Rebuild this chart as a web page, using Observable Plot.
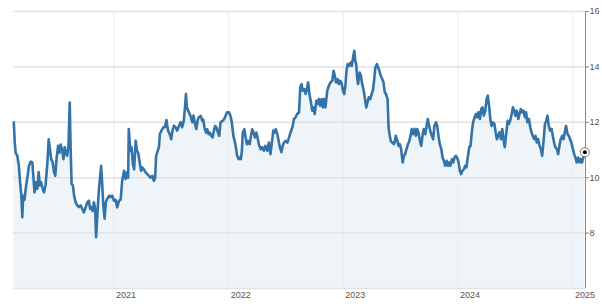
<!DOCTYPE html>
<html><head><meta charset="utf-8">
<script src="https://cdn.jsdelivr.net/npm/d3@7"></script>
<script src="https://cdn.jsdelivr.net/npm/@observablehq/plot@0.6"></script>
<style>body{margin:0;background:#fff;overflow:hidden}</style>
</head><body><div id="chart"></div>
<script>
const yTicks = [8, 10, 12, 14, 16];
const gridY = [6, 8, 10, 12, 14, 16];
const yearTicks = ["2021-01-01", "2022-01-01", "2023-01-01", "2024-01-01", "2025-01-01"];
const xDomain = ["2020-02-16", "2025-02-10"];
const yDomain = [6, 16];
const series = [
["2020-02-17",12.0],["2020-02-20",11.27],["2020-02-23",10.9],["2020-02-28",10.8],["2020-03-04",10.43],["2020-03-08",9.83],["2020-03-12",9.35],["2020-03-15",8.57],["2020-03-18",9.35],["2020-03-22",9.2],["2020-03-27",9.7],
["2020-04-01",10.07],["2020-04-05",10.43],["2020-04-11",10.58],["2020-04-16",10.55],["2020-04-19",10.07],["2020-04-23",9.47],["2020-04-28",9.84],
["2020-05-02",9.6],["2020-05-06",10.2],["2020-05-10",9.72],["2020-05-14",9.84],["2020-05-19",9.6],["2020-05-23",9.47],["2020-05-28",9.72],
["2020-06-03",10.55],["2020-06-07",11.39],["2020-06-11",11.03],["2020-06-15",10.67],["2020-06-20",10.55],["2020-06-24",10.2],["2020-06-28",10.07],
["2020-07-02",10.67],["2020-07-07",11.15],["2020-07-11",10.9],["2020-07-15",11.2],["2020-07-19",11.03],["2020-07-24",10.67],["2020-07-28",11.1],
["2020-08-01",10.85],["2020-08-05",10.8],["2020-08-09",11.15],["2020-08-13",12.71],["2020-08-16",11.03],["2020-08-19",9.77],["2020-08-23",9.72],["2020-08-27",9.35],
["2020-09-01",9.11],["2020-09-06",9.0],["2020-09-11",8.94],["2020-09-17",9.0],["2020-09-22",8.87],["2020-09-27",8.75],
["2020-10-03",8.94],["2020-10-08",9.11],["2020-10-13",9.17],["2020-10-17",8.87],["2020-10-21",8.94],["2020-10-25",8.8],["2020-10-29",9.11],
["2020-11-02",8.87],["2020-11-05",7.85],["2020-11-10",8.87],["2020-11-14",9.59],["2020-11-17",9.95],["2020-11-21",10.43],["2020-11-24",9.84],["2020-11-28",9.0],
["2020-12-02",8.52],["2020-12-06",9.11],["2020-12-10",9.23],["2020-12-17",9.35],["2020-12-21",9.3],["2020-12-26",9.35],
["2021-01-01",9.17],["2021-01-06",9.2],["2021-01-11",8.93],["2021-01-17",9.17],["2021-01-22",9.2],["2021-01-27",9.89],
["2021-02-02",10.25],["2021-02-07",9.95],["2021-02-12",10.2],["2021-02-15",10.0],["2021-02-17",11.76],["2021-02-22",10.97],["2021-02-26",11.1],
["2021-03-02",10.49],["2021-03-06",10.3],["2021-03-11",11.33],["2021-03-15",10.97],["2021-03-19",10.9],["2021-03-23",10.61],["2021-03-28",10.25],
["2021-04-01",10.37],["2021-04-06",10.3],["2021-04-11",10.2],["2021-04-17",10.13],["2021-04-22",10.07],["2021-04-27",10.0],
["2021-05-03",10.07],["2021-05-08",9.89],["2021-05-12",10.0],["2021-05-15",10.79],["2021-05-20",10.97],["2021-05-24",11.1],["2021-05-27",11.58],
["2021-06-01",11.7],["2021-06-07",11.82],["2021-06-12",11.82],["2021-06-17",12.08],["2021-06-22",11.7],["2021-06-27",11.58],
["2021-07-02",11.39],["2021-07-06",11.7],["2021-07-11",11.88],["2021-07-16",11.82],["2021-07-21",11.7],["2021-07-27",11.88],
["2021-08-01",12.0],["2021-08-06",11.82],["2021-08-11",12.05],["2021-08-15",12.54],["2021-08-18",13.02],["2021-08-21",12.54],["2021-08-25",12.42],["2021-08-30",12.3],
["2021-09-03",12.18],["2021-09-07",12.0],["2021-09-11",12.24],["2021-09-16",11.94],["2021-09-20",11.76],["2021-09-24",12.06],["2021-09-28",12.18],
["2021-10-04",12.23],["2021-10-09",12.05],["2021-10-12",12.1],["2021-10-16",11.82],["2021-10-21",11.63],["2021-10-25",11.75],["2021-10-29",11.57],
["2021-11-02",11.63],["2021-11-07",11.51],["2021-11-11",11.45],["2021-11-15",11.7],["2021-11-19",11.87],["2021-11-23",11.82],["2021-11-28",11.63],
["2021-12-02",11.51],["2021-12-06",12.0],["2021-12-12",12.05],["2021-12-17",12.1],["2021-12-22",12.23],["2021-12-27",12.36],
["2022-01-02",12.36],["2022-01-07",12.23],["2022-01-11",12.0],["2022-01-16",11.51],["2022-01-20",11.33],["2022-01-24",11.1],["2022-01-28",10.79],
["2022-02-02",10.67],["2022-02-06",10.73],["2022-02-09",10.67],["2022-02-12",10.97],["2022-02-15",11.63],["2022-02-20",11.75],["2022-02-24",11.45],["2022-02-28",11.21],
["2022-03-04",11.33],["2022-03-09",11.21],["2022-03-13",11.51],["2022-03-17",11.75],["2022-03-21",11.63],["2022-03-26",11.45],["2022-03-30",11.63],
["2022-04-03",11.45],["2022-04-07",11.21],["2022-04-13",11.03],["2022-04-18",11.1],["2022-04-23",10.97],["2022-04-28",11.15],
["2022-05-04",10.97],["2022-05-09",11.27],["2022-05-14",10.85],["2022-05-20",11.39],["2022-05-23",11.7],["2022-05-27",11.63],["2022-05-31",11.75],
["2022-06-05",11.57],["2022-06-09",11.33],["2022-06-13",11.1],["2022-06-18",10.92],["2022-06-22",11.15],["2022-06-26",11.27],
["2022-07-01",11.33],["2022-07-07",11.27],["2022-07-12",11.45],["2022-07-17",11.63],["2022-07-23",11.82],["2022-07-28",12.12],
["2022-08-02",12.18],["2022-08-07",12.3],["2022-08-13",12.36],["2022-08-17",13.26],["2022-08-21",13.38],["2022-08-25",13.14],["2022-08-30",13.2],
["2022-09-03",13.02],["2022-09-07",13.2],["2022-09-11",13.44],["2022-09-15",13.02],["2022-09-20",12.72],["2022-09-24",12.42],["2022-09-28",12.54],
["2022-10-02",12.3],["2022-10-07",12.78],["2022-10-11",12.66],["2022-10-15",12.84],["2022-10-19",12.6],["2022-10-24",12.84],["2022-10-28",12.54],
["2022-11-01",12.84],["2022-11-05",12.54],["2022-11-11",13.14],["2022-11-16",13.32],["2022-11-21",13.44],["2022-11-27",13.5],
["2022-12-01",13.86],["2022-12-05",13.68],["2022-12-09",13.44],["2022-12-14",13.56],["2022-12-18",13.38],["2022-12-22",13.5],["2022-12-26",13.44],["2022-12-31",13.14],
["2023-01-04",13.02],["2023-01-08",13.38],["2023-01-11",13.86],["2023-01-15",14.1],["2023-01-20",14.04],["2023-01-24",14.16],["2023-01-28",14.04],
["2023-02-01",14.34],["2023-02-05",14.58],["2023-02-08",14.22],["2023-02-11",14.1],["2023-02-14",13.62],["2023-02-17",13.38],["2023-02-22",13.8],["2023-02-26",13.68],
["2023-03-02",13.38],["2023-03-06",13.2],["2023-03-11",12.84],["2023-03-15",12.54],["2023-03-19",12.72],["2023-03-23",12.9],["2023-03-28",12.84],
["2023-04-01",13.02],["2023-04-05",13.14],["2023-04-09",13.5],["2023-04-13",13.98],["2023-04-18",14.1],["2023-04-22",13.98],["2023-04-26",13.86],["2023-04-30",13.68],
["2023-05-05",13.56],["2023-05-09",13.44],["2023-05-13",13.08],["2023-05-17",13.02],["2023-05-22",12.84],["2023-05-25",11.82],["2023-05-28",11.58],
["2023-06-01",11.33],["2023-06-06",11.27],["2023-06-11",11.21],["2023-06-13",11.27],["2023-06-17",11.51],["2023-06-22",11.33],["2023-06-26",11.15],["2023-06-30",11.21],
["2023-07-04",11.03],["2023-07-09",10.55],["2023-07-13",10.79],["2023-07-17",10.85],["2023-07-21",11.03],["2023-07-26",11.21],["2023-07-30",11.33],
["2023-08-03",11.51],["2023-08-07",11.76],["2023-08-11",11.57],["2023-08-16",11.76],["2023-08-20",11.51],["2023-08-24",11.76],["2023-08-28",11.64],
["2023-09-02",11.33],["2023-09-06",11.15],["2023-09-10",11.51],["2023-09-14",11.76],["2023-09-19",11.57],["2023-09-23",11.87],["2023-09-27",12.12],
["2023-10-01",11.87],["2023-10-06",11.64],["2023-10-10",11.51],["2023-10-14",11.39],["2023-10-18",11.87],["2023-10-23",12.0],["2023-10-27",11.87],["2023-10-31",11.51],
["2023-11-04",11.21],["2023-11-09",11.03],["2023-11-13",10.73],["2023-11-17",10.61],["2023-11-21",10.43],["2023-11-26",10.61],["2023-11-30",10.43],
["2023-12-04",10.55],["2023-12-08",10.43],["2023-12-13",10.67],["2023-12-17",10.55],["2023-12-21",10.73],["2023-12-25",10.79],["2023-12-29",10.73],
["2024-01-03",10.55],["2024-01-07",10.25],["2024-01-11",10.13],["2024-01-15",10.25],["2024-01-20",10.31],["2024-01-24",10.43],["2024-01-28",10.37],
["2024-02-01",10.73],["2024-02-06",11.1],["2024-02-10",11.15],["2024-02-14",11.64],["2024-02-18",12.0],["2024-02-23",12.18],["2024-02-27",12.3],
["2024-03-02",12.18],["2024-03-06",12.36],["2024-03-11",12.12],["2024-03-15",12.48],["2024-03-19",12.54],["2024-03-23",12.24],["2024-03-28",12.42],
["2024-04-01",12.84],["2024-04-05",12.96],["2024-04-09",12.6],["2024-04-13",12.12],["2024-04-17",11.87],["2024-04-21",12.0],["2024-04-26",11.94],["2024-04-30",11.64],
["2024-05-04",11.39],["2024-05-08",11.51],["2024-05-12",11.64],["2024-05-17",11.39],["2024-05-21",11.76],["2024-05-25",11.39],["2024-05-29",11.1],
["2024-06-03",11.64],["2024-06-07",12.05],["2024-06-11",11.94],["2024-06-15",12.05],["2024-06-20",12.3],["2024-06-24",12.54],["2024-06-28",12.42],
["2024-07-02",12.24],["2024-07-06",12.42],["2024-07-11",12.12],["2024-07-15",12.3],["2024-07-19",12.48],["2024-07-23",12.36],["2024-07-28",12.42],
["2024-08-01",12.18],["2024-08-05",12.36],["2024-08-09",12.0],["2024-08-14",12.12],["2024-08-18",11.82],["2024-08-22",11.64],["2024-08-26",11.51],["2024-08-31",11.39],
["2024-09-04",11.51],["2024-09-08",11.27],["2024-09-12",11.39],["2024-09-17",11.15],["2024-09-21",11.03],["2024-09-25",10.79],["2024-09-29",11.27],
["2024-10-04",11.94],["2024-10-08",12.05],["2024-10-12",12.24],["2024-10-16",11.87],["2024-10-20",11.7],["2024-10-25",11.76],["2024-10-29",11.51],
["2024-11-02",11.27],["2024-11-06",11.1],["2024-11-11",11.03],["2024-11-15",10.85],["2024-11-19",11.15],["2024-11-23",11.39],["2024-11-28",11.51],
["2024-12-02",11.39],["2024-12-06",11.64],["2024-12-10",11.87],["2024-12-15",11.57],["2024-12-19",11.51],["2024-12-23",11.39],["2024-12-27",11.27],
["2025-01-01",11.03],["2025-01-05",10.85],["2025-01-09",10.73],["2025-01-13",10.55],["2025-01-18",10.73],["2025-01-22",10.55],["2025-01-26",10.67],["2025-01-30",10.55],
["2025-02-03",10.73],["2025-02-08",10.92]
];

const data = series.map(([d, v]) => ({date: new Date(d), value: v}));
const last = data[data.length - 1];
const years = yearTicks.map(d => new Date(d));
const xd = xDomain.map(d => new Date(d));

const chart = Plot.plot({
  width: 602,
  height: 304,
  marginLeft: 13,
  marginRight: 17,
  marginTop: 11,
  marginBottom: 16,
  x: {type: "utc", domain: xd, label: null},
  y: {domain: yDomain, label: null},
  style: {fontFamily: "Arial, 'Liberation Sans', sans-serif", fontSize: "9px", color: "#555", background: "white"},
  marks: [
    Plot.areaY(data, {x: "date", y1: yDomain[0], y2: "value", fill: "#eef4f8"}),
    Plot.ruleX(years, {stroke: "#ececec", strokeWidth: 1}),
    Plot.ruleY(gridY, {stroke: "#e2e2e2", strokeWidth: 1.5}),
    Plot.lineY(data, {x: "date", y: "value", stroke: "#3373a8", strokeWidth: 2.6, strokeLinejoin: "round"}),
    Plot.ruleX([xd[1]], {stroke: "#888", strokeWidth: 1}),
    Plot.axisY({anchor: "right", ticks: yTicks, tickSize: 3, tickPadding: 1, stroke: "#888", fill: "#555", label: null}),
    Plot.axisX({ticks: years, tickFormat: d3.utcFormat("%Y"), tickSize: 0, tickPadding: 3, textAnchor: "start", dx: 2, fill: "#555", label: null}),
    Plot.dot([last], {x: "date", y: "value", r: 4.5, fill: "white", stroke: "#777", strokeWidth: 1}),
    Plot.dot([last], {x: "date", y: "value", r: 2, fill: "black"})
  ]
});
document.getElementById("chart").appendChild(chart);
</script>
</body></html>
